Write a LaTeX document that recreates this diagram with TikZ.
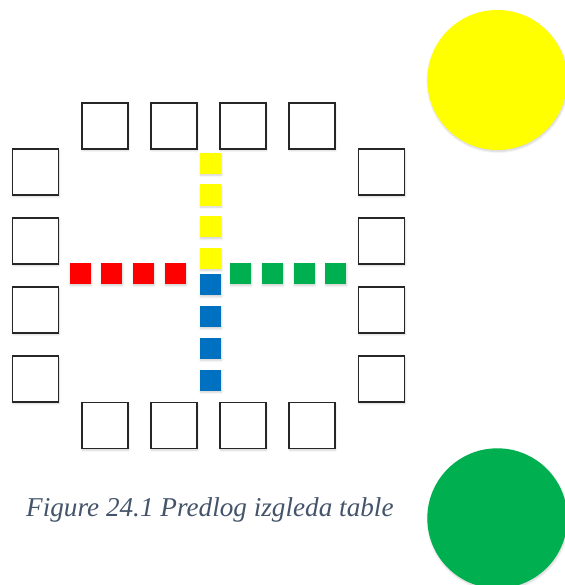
\documentclass[tikz,border=0pt]{standalone}
\usepackage{fontspec}
\setmainfont{Liberation Serif}
\usetikzlibrary{shadows.blur}
\definecolor{capblue}{HTML}{44546A}
\definecolor{pieceRed}{HTML}{FF0000}
\definecolor{pieceYellow}{HTML}{FFFF00}
\definecolor{pieceGreen}{HTML}{00B050}
\definecolor{pieceBlue}{HTML}{0070C0}
\definecolor{boxline}{HTML}{262626}
\tikzset{
  softshadow/.style={blur shadow={shadow xshift=0.6pt, shadow yshift=-1.6pt,
    shadow blur radius=2pt, shadow opacity=18, shadow blur steps=6}},
  field/.style={draw=boxline, line width=1.4pt, fill=white, minimum size=46pt,
    inner sep=0pt, outer sep=0pt, softshadow},
  piece/.style={fill=#1, draw=none, minimum size=21pt, inner sep=0pt,
    outer sep=0pt, softshadow},
  token/.style={circle, fill=#1, draw=none, minimum size=140pt, inner sep=0pt,
    softshadow}
}
\begin{document}
\begin{tikzpicture}[x=1pt,y=-1pt]
\useasboundingbox (0,0) rectangle (564,585);

% outer fields of the board
\foreach \x [count=\i] in {105,174,243,312} {
  \node[field] (top\i) at (\x,126) {};
  \node[field] (bot\i) at (\x,425.5) {};
}
\foreach \y [count=\i] in {172,241,310,379} {
  \node[field] (left\i) at (35.5,\y) {};
  \node[field] (right\i) at (381.5,\y) {};
}

% home paths
\foreach \k [count=\i from 0] in {1,2,3,4} {
  \node[piece=pieceRed]    (red\k)    at ({80+31.75*\i},273.7) {};
  \node[piece=pieceGreen]  (green\k)  at ({240.5+31.75*\i},273.7) {};
  \node[piece=pieceYellow] (yellow\k) at (210.5,{163.2+31.8*\i}) {};
  \node[piece=pieceBlue]   (blue\k)   at (210.5,{284.8+31.8*\i}) {};
}

% player tokens
\node[token=pieceYellow] (tokYellow) at (497.3,80) {};
\node[token=pieceGreen]  (tokGreen)  at (497.3,518.3) {};

% caption
\node[anchor=base west, inner sep=0pt, text=capblue,
      font=\fontsize{27.2}{32}\selectfont\itshape] (caption) at (26,516)
  {Figure 24.1 Predlog izgleda table};
\end{tikzpicture}
\end{document}
